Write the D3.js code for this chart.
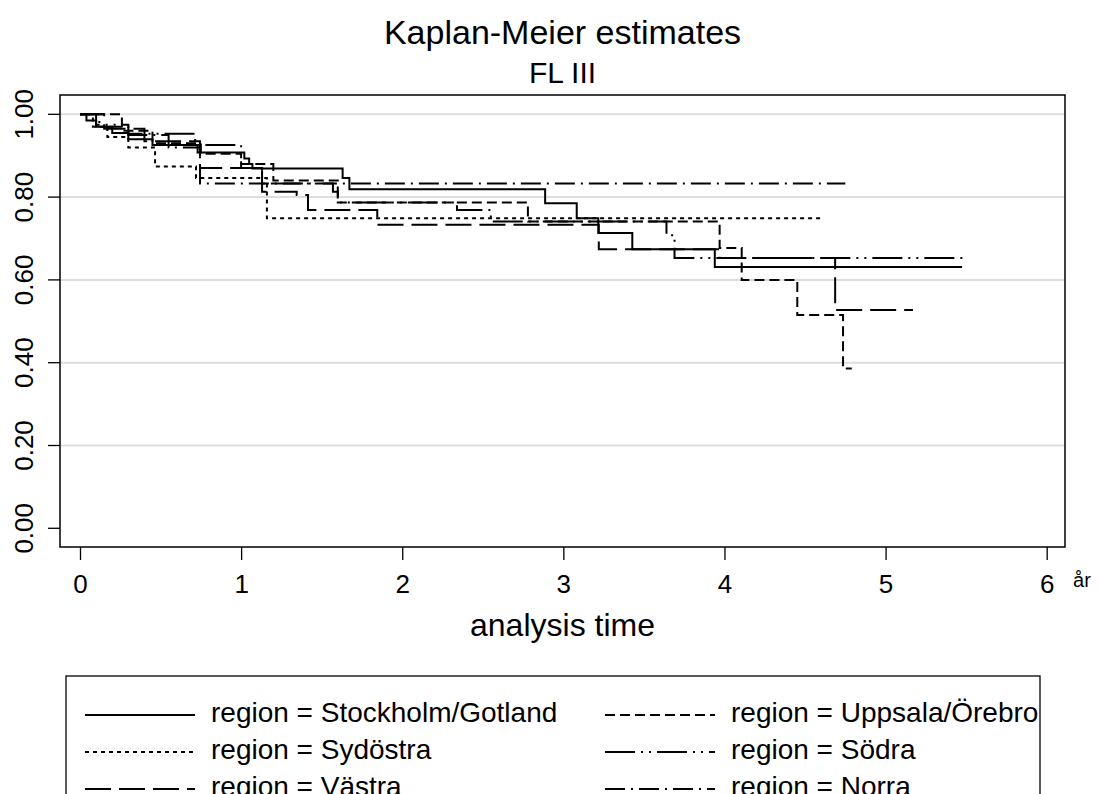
<!DOCTYPE html>
<html>
<head>
<meta charset="utf-8">
<script src="https://cdn.jsdelivr.net/npm/d3@7"></script>
<style>
  body { margin: 0; background: #fff; }
  svg text { font-family: "Liberation Sans", Arial, sans-serif; fill: #000; }
</style>
</head>
<body>
<svg id="chart" width="1100" height="794"></svg>
<script>
// ── Data ─────────────────────────────────────────────────────────
const groups = ["Stockholm/Gotland", "Uppsala/Örebro", "Sydöstra", "Södra", "Västra", "Norra"];

const stockholmT = [0, 0.04, 0.1, 0.2, 0.3, 0.45, 0.73, 1.02, 1.05, 1.07, 1.63, 1.672, 2.887, 3.083, 3.217, 3.428, 3.94];
const stockholmS = [1, 0.985, 0.97, 0.955, 0.94, 0.926, 0.908, 0.893, 0.88, 0.869, 0.846, 0.819, 0.785, 0.749, 0.713, 0.674, 0.631];

const uppsalaT = [0, 0.26, 0.45, 0.75, 1.0, 1.2, 1.6, 2.78, 3.97, 4.107, 4.452, 4.736];
const uppsalaS = [1, 0.96, 0.93, 0.905, 0.88, 0.84, 0.787, 0.741, 0.677, 0.6, 0.515, 0.386];

const sydostraT = [0, 0.08, 0.17, 0.3, 0.466, 0.72, 1.16];
const sydostraS = [1, 0.97, 0.945, 0.92, 0.874, 0.846, 0.749];

const sodraT = [0, 0.1, 0.3, 0.715, 1.0, 1.13, 1.57, 1.6, 2.34, 2.55, 3.64, 3.69];
const sodraS = [1, 0.975, 0.953, 0.926, 0.87, 0.833, 0.813, 0.787, 0.769, 0.741, 0.708, 0.653];

const vastraT = [0, 0.15, 0.4, 0.745, 1.13, 1.345, 1.415, 1.845, 3.22, 3.97, 4.687];
const vastraS = [1, 0.965, 0.935, 0.87, 0.813, 0.805, 0.769, 0.733, 0.674, 0.653, 0.527];

const norraT = [0, 0.12, 0.3, 0.55, 0.745];
const norraS = [1, 0.97, 0.95, 0.92, 0.833];

const endTimes = [5.475, 4.79, 4.606, 5.49, 5.17, 4.75];

const xTicks = [0, 1, 2, 3, 4, 5, 6];
const yTicks = [0, 0.2, 0.4, 0.6, 0.8, 1.0];

// ── Estilos ──────────────────────────────────────────────────────
const dashes = ["none", "10,5", "4,4", "30,6,2,6,2,6", "26,8", "20,6,2,6"];

const series = [
  [stockholmT, stockholmS], [uppsalaT, uppsalaS], [sydostraT, sydostraS],
  [sodraT, sodraS], [vastraT, vastraS], [norraT, norraS]
].map(([t, s], i) => {
  const pts = t.map((d, j) => ({t: d, s: s[j]}));
  pts.push({t: endTimes[i], s: s[s.length - 1]});
  return {name: groups[i], dash: dashes[i], pts};
});

// ── Escalas ──────────────────────────────────────────────────────
const svg = d3.select("#chart");
const L = 60, R = 1065, T = 95, B = 547;

const x = d3.scaleLinear().domain([0, 6]).range([80, 1046.7]);
const y = d3.scaleLinear().domain([0, 1]).range([528.3, 114.3]);

// grid
svg.append("g").selectAll("line")
  .data(yTicks.slice(1))
  .join("line")
  .attr("x1", L).attr("x2", R)
  .attr("y1", d => y(d)).attr("y2", d => y(d))
  .attr("stroke", "#dddddd").attr("stroke-width", 2);

// curves
const line = d3.line().x(d => x(d.t)).y(d => y(d.s)).curve(d3.curveStepAfter);
svg.append("g").selectAll("path")
  .data(series)
  .join("path")
  .attr("d", d => line(d.pts))
  .attr("fill", "none")
  .attr("stroke", "#000")
  .attr("stroke-width", 2)
  .attr("stroke-dasharray", d => d.dash);

// frame
svg.append("rect")
  .attr("x", L).attr("y", T).attr("width", R - L).attr("height", B - T)
  .attr("fill", "none").attr("stroke", "#000").attr("stroke-width", 1.5);

// axes
const yAxis = svg.append("g").attr("transform", `translate(${L},0)`)
  .call(d3.axisLeft(y).tickValues(yTicks).tickFormat(d3.format(".2f")).tickSize(12).tickSizeOuter(0));
yAxis.select(".domain").remove();
yAxis.selectAll("line").attr("stroke-width", 1.3);
yAxis.selectAll("text")
  .attr("font-size", 26)
  .attr("x", 0).attr("dy", 0)
  .attr("text-anchor", "middle")
  .attr("transform", d => `translate(-27,${y(d)}) rotate(-90)`)
  .attr("y", 0);
yAxis.selectAll(".tick").attr("transform", null);
yAxis.selectAll(".tick line").attr("y1", d => y(d)).attr("y2", d => y(d));

const xAxis = svg.append("g").attr("transform", `translate(0,${B})`)
  .call(d3.axisBottom(x).tickValues(xTicks).tickFormat(d3.format("d")).tickSize(13).tickSizeOuter(0));
xAxis.select(".domain").remove();
xAxis.selectAll("line").attr("stroke-width", 1.3);
xAxis.selectAll("text").attr("font-size", 26).attr("y", 28).attr("dy", "0.71em");

svg.append("text").attr("x", 1082).attr("y", 587).attr("text-anchor", "middle")
  .attr("font-size", 20).text("år");

// titles
svg.append("text").attr("x", 562.5).attr("y", 44).attr("text-anchor", "middle")
  .attr("font-size", 34).text("Kaplan-Meier estimates");
svg.append("text").attr("x", 562.5).attr("y", 83).attr("text-anchor", "middle")
  .attr("font-size", 30).text("FL III");
svg.append("text").attr("x", 562.5).attr("y", 636).attr("text-anchor", "middle")
  .attr("font-size", 32).text("analysis time");

// ── Leyenda ──────────────────────────────────────────────────────
const leg = svg.append("g");
leg.append("rect").attr("x", 66).attr("y", 676).attr("width", 974).attr("height", 140)
  .attr("fill", "none").attr("stroke", "#000").attr("stroke-width", 1.3);

const item = leg.selectAll("g.item")
  .data(series)
  .join("g")
  .attr("class", "item")
  .attr("transform", (d, i) => `translate(${i % 2 ? 605 : 85},${715 + Math.floor(i / 2) * 37})`);
item.append("line").attr("x1", 0).attr("x2", 110)
  .attr("stroke", "#000").attr("stroke-width", 2)
  .attr("stroke-dasharray", d => d.dash);
item.append("text").attr("x", 126).attr("y", 7)
  .attr("font-size", 28).text(d => "region = " + d.name);
</script>
</body>
</html>
